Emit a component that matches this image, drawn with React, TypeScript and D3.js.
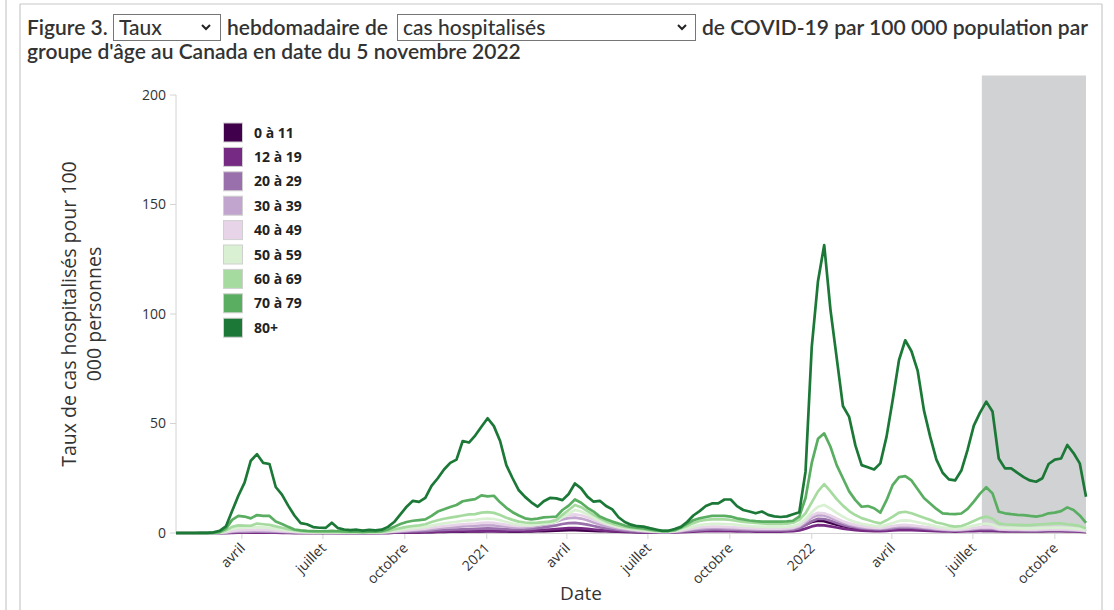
import React from "react";
import * as d3 from "d3";

const START_DATE = "2020-01-18";
const END_DATE = "2022-11-05";
const SHADE_START = "2022-07-11";

const ageGroups = ["0 à 11", "12 à 19", "20 à 29", "30 à 39", "40 à 49", "50 à 59", "60 à 69", "70 à 79", "80+"];
const groupColors = ["#40004b", "#762a83", "#9970ab", "#c2a5cf", "#e7d4e8", "#d9f0d3", "#a6dba0", "#5aae61", "#1b7837"];

const age0_11 = [
  0,0,0,0,0,0,0,0,0.1,0.2,
  0.2,0.2,0.3,0.3,0.3,0.2,0.2,0.2,0.2,0.1,
  0.1,0.1,0.1,0.1,0.1,0.1,0.1,0.1,0.1,0.1,
  0.1,0.1,0.1,0.1,0.1,0.2,0.2,0.3,0.3,0.3,
  0.4,0.4,0.5,0.5,0.6,0.6,0.6,0.7,0.7,0.7,
  0.8,0.8,0.7,0.7,0.6,0.6,0.7,0.7,0.8,0.9,
  1,1.1,1.2,1.3,1.3,1.2,1.1,1,0.9,0.8,
  0.7,0.6,0.5,0.5,0.4,0.4,0.4,0.4,0.4,0.5,
  0.6,0.8,1,1.2,1.4,1.5,1.6,1.6,1.6,1.5,
  1.5,1.4,1.4,1.4,1.4,1.5,1.5,1.6,1.7,1.9,
  2.6,3.8,5,5.6,5.4,4.6,3.8,3.1,2.6,2.2,
  1.9,1.7,1.6,1.6,1.8,2,2.2,2.3,2.2,2,
  1.8,1.6,1.4,1.3,1.2,1.2,1.3,1.4,1.6,1.7,
  1.7,1.6,1.3,1.2,1.2,1.2,1.1,1.1,1.1,1.2,
  1.3,1.4,1.5,1.5,1.4,1.3,0.9,
];
const age12_19 = [
  0,0,0,0,0,0,0,0,0.1,0.1,
  0.2,0.2,0.2,0.2,0.2,0.2,0.2,0.1,0.1,0.1,
  0.1,0.1,0.1,0.1,0.1,0.1,0.1,0.1,0.1,0.1,
  0.1,0.1,0.1,0.1,0.1,0.2,0.2,0.3,0.3,0.4,
  0.4,0.5,0.6,0.6,0.7,0.7,0.8,0.8,0.9,0.9,
  1,0.9,0.9,0.8,0.8,0.8,0.9,1,1.2,1.4,
  1.6,1.8,2,2.2,2.2,2.1,1.9,1.6,1.3,1.1,
  0.9,0.7,0.6,0.5,0.4,0.3,0.3,0.2,0.2,0.2,
  0.3,0.4,0.5,0.6,0.7,0.8,0.8,0.8,0.8,0.8,
  0.7,0.7,0.7,0.6,0.6,0.6,0.6,0.6,0.7,0.8,
  1.2,2,3,3.6,3.5,3,2.5,2,1.6,1.3,
  1.1,1,0.9,0.9,1,1.2,1.3,1.4,1.3,1.2,
  1.1,1,0.8,0.7,0.7,0.6,0.7,0.8,0.9,1,
  1.1,1,0.8,0.7,0.7,0.7,0.7,0.7,0.7,0.7,
  0.8,0.8,0.8,0.7,0.7,0.6,0.4,
];
const age20_29 = [
  0,0,0,0,0,0,0,0.1,0.2,0.4,
  0.5,0.5,0.6,0.6,0.6,0.5,0.5,0.4,0.3,0.3,
  0.2,0.2,0.2,0.2,0.2,0.2,0.1,0.1,0.1,0.1,
  0.1,0.1,0.1,0.2,0.3,0.4,0.5,0.6,0.7,0.8,
  0.9,1.1,1.3,1.4,1.5,1.6,1.7,1.8,1.9,2,
  2.1,2,1.9,1.7,1.6,1.6,1.7,1.9,2.2,2.6,
  3,3.5,4.1,4.5,4.6,4.3,3.8,3.2,2.6,2.1,
  1.7,1.4,1.1,0.9,0.7,0.6,0.5,0.4,0.3,0.3,
  0.4,0.6,0.9,1.1,1.3,1.5,1.6,1.6,1.5,1.5,
  1.4,1.3,1.3,1.2,1.2,1.2,1.2,1.2,1.3,1.5,
  2.2,3.6,5.4,6.5,6.4,5.6,4.6,3.7,3,2.5,
  2.1,1.9,1.7,1.6,1.8,2.1,2.4,2.5,2.4,2.2,
  2,1.8,1.5,1.3,1.2,1.1,1.2,1.4,1.6,1.8,
  1.9,1.8,1.4,1.3,1.2,1.2,1.2,1.1,1.1,1.2,
  1.3,1.3,1.3,1.2,1.1,1,0.7,
];
const age30_39 = [
  0,0,0,0,0,0,0,0.1,0.3,0.6,
  0.8,0.9,0.9,1,0.9,0.8,0.7,0.6,0.5,0.4,
  0.3,0.3,0.2,0.2,0.2,0.2,0.2,0.2,0.2,0.2,
  0.2,0.2,0.2,0.2,0.4,0.6,0.8,1,1.2,1.3,
  1.5,1.8,2.1,2.4,2.6,2.8,3,3.2,3.3,3.5,
  3.6,3.5,3.2,2.9,2.6,2.5,2.6,2.8,3.2,3.8,
  4.4,5.2,6.2,6.8,7,6.6,5.8,4.8,3.9,3.1,
  2.5,2,1.6,1.3,1,0.8,0.6,0.5,0.4,0.4,
  0.6,0.9,1.3,1.7,2,2.2,2.3,2.3,2.2,2.1,
  2,1.9,1.8,1.7,1.7,1.7,1.7,1.7,1.8,2.1,
  3,4.8,7,8.2,8,7,5.8,4.7,3.8,3.1,
  2.6,2.3,2.1,2,2.3,2.7,3,3.1,2.9,2.7,
  2.4,2.1,1.8,1.6,1.4,1.3,1.4,1.6,1.9,2.2,
  2.3,2.1,1.6,1.5,1.4,1.4,1.3,1.3,1.3,1.4,
  1.5,1.5,1.5,1.4,1.3,1.1,0.8,
];
const age40_49 = [
  0,0,0,0,0,0,0,0.1,0.4,0.9,
  1.2,1.3,1.4,1.5,1.4,1.3,1.1,0.9,0.7,0.5,
  0.4,0.3,0.3,0.3,0.3,0.3,0.2,0.2,0.2,0.2,
  0.2,0.2,0.2,0.3,0.5,0.7,1,1.3,1.5,1.7,
  2,2.4,2.8,3.1,3.4,3.7,4,4.2,4.3,4.6,
  4.7,4.6,4.2,3.7,3.3,3.1,3.2,3.4,3.9,4.5,
  5.2,6.2,7.4,8.2,8.5,8.1,7.2,6,4.9,4,
  3.2,2.6,2.1,1.7,1.3,1,0.8,0.6,0.5,0.5,
  0.7,1.1,1.6,2.1,2.5,2.8,2.9,2.9,2.8,2.7,
  2.5,2.3,2.2,2.1,2,2,2,2,2.1,2.4,
  3.4,5.5,8,9.2,9,8,6.6,5.4,4.4,3.7,
  3.1,2.7,2.4,2.3,2.7,3.2,3.6,3.7,3.5,3.2,
  2.8,2.5,2.1,1.8,1.6,1.5,1.6,1.9,2.3,2.6,
  2.7,2.5,1.8,1.7,1.6,1.6,1.5,1.5,1.5,1.6,
  1.7,1.7,1.7,1.6,1.5,1.3,0.9,
];
const age50_59 = [
  0,0,0,0,0,0,0.1,0.2,0.8,1.8,
  2.3,2.4,2.5,2.7,2.6,2.3,1.9,1.5,1.1,0.8,
  0.6,0.5,0.4,0.4,0.4,0.4,0.3,0.3,0.3,0.3,
  0.3,0.3,0.3,0.4,0.7,1.1,1.5,1.9,2.2,2.4,
  2.8,3.4,4,4.4,4.8,5.1,5.5,5.8,6,6.4,
  6.6,6.4,5.8,5,4.3,3.8,3.6,3.6,3.8,4.1,
  4.5,5.2,7.2,8.8,10.5,9.8,8.5,7,5.6,4.5,
  3.6,2.9,2.3,1.8,1.5,1.2,0.9,0.7,0.6,0.6,
  0.9,1.5,2.2,3,3.6,4,4.2,4.2,4.1,4,
  3.7,3.4,3.2,3,2.9,2.8,2.8,2.8,2.9,3.2,
  4.2,6.5,9.5,12,12.8,11.2,9.2,7.5,6,5,
  4.2,3.7,3.3,3,3.7,4.6,5.5,5.8,5.5,4.9,
  4.3,3.7,3,2.6,2.2,2,2.2,2.7,3.4,4,
  4.3,3.8,2.6,2.4,2.3,2.2,2.1,2.1,2.2,2.3,
  2.4,2.5,2.5,2.3,2.1,1.9,1.3,
];
const age60_69 = [
  0,0,0,0,0,0,0.1,0.3,1.2,2.8,
  3.5,3.4,3.3,4.3,4,3.7,3,2.4,1.8,1.3,
  0.9,0.7,0.6,0.5,0.5,0.6,0.5,0.4,0.4,0.4,
  0.3,0.4,0.4,0.5,1,1.6,2.2,2.8,3.2,3.5,
  4,5,5.8,6.5,7,7.5,8,8.5,8.6,9.3,
  9.5,9.2,8.2,7,6,5.2,4.8,4.6,4.7,5,
  5.2,5.8,8.3,10.5,12.8,11.8,10,8.3,6.7,5.3,
  4.3,3.5,2.8,2.3,2,1.7,1.3,1,0.8,0.8,
  1.2,2.2,3.2,4.5,5.5,6,6.2,6.2,6.2,6,
  5.5,5.1,4.8,4.6,4.4,4.2,4.1,4.1,4.3,4.7,
  6,9,14,19,22.3,19,15.5,12.5,10,8.2,
  6.8,5.9,5,4.4,5.8,7.5,9.3,9.7,9,8,
  7,6,4.8,4.2,3.4,2.9,3.2,4.2,5.5,6.8,
  7.5,6.5,4.4,4,3.8,3.7,3.6,3.6,3.8,4,
  4.2,4.4,4.4,4,3.7,3.2,2.1,
];
const age70_79 = [
  0,0,0,0,0,0,0.1,0.4,2,6,
  7.8,7.5,6.7,8.2,7.8,7.8,5.2,4.1,2.8,1.6,
  1.2,1,0.9,0.8,0.8,1,0.8,0.7,0.6,0.6,
  0.5,0.6,0.6,0.8,1.6,2.8,4.1,5,5.6,5.9,
  6.2,7.8,9.8,10.8,11.9,12.8,14.5,15,15.5,17.2,
  16.7,17,14,11.5,9.5,8,6.7,6.2,6.6,7.1,
  7.3,7.5,10.5,12.5,15.3,13.8,11.5,9.8,7.5,6.3,
  5.2,4.3,3.4,2.8,2.4,2.1,1.6,1.2,1,1,
  1.3,2.5,4.2,5.8,6.7,7.3,7.8,7.8,7.8,7.5,
  6.7,6.2,5.7,5.4,5.2,5.2,5.2,5.2,5.3,5.6,
  7.5,16,32,43,45.5,39.4,31,25,19,15,
  12,12.3,11.3,9.3,15,22,25.5,26,24,20,
  16,13.5,11,9,8.7,8.6,8.9,11,14.3,18,
  20.9,18.1,9.7,9,8.6,8.3,8.2,7.8,7.5,8,
  9,9.3,10,11.7,10.5,8,4.6,
];
const age80plus = [
  0,0,0,0,0.1,0.1,0.3,1,3,10,
  17,23,33,36,32,31.5,21,17.5,12.5,8,
  4.5,4,2.7,2.4,2.3,4.7,2.2,1.6,1.3,1.5,
  1.1,1.4,1.2,1.5,2.8,5,8.5,12,14.7,14.2,
  16,21.5,25,29,32,33.5,42,41.3,44.5,48.5,
  52.4,48.8,42,31,25,19.5,16.5,14,12,14.5,
  16,15.8,15,17.8,22.6,20.4,16.6,14.3,14.7,12.3,
  10.8,7.2,5,3.8,3.1,2.9,2.2,1.6,1,1,
  1.8,2.8,5,8,10,12.3,13.5,13.5,15.3,15.3,
  12.3,10.5,9.8,9,9.8,8.3,7.6,7.3,7.6,8.6,
  9.5,28,85,115,131.5,102,80,58,53,40,
  31,30,29,31.8,44,61,79,88,83,74,
  56,44,33.5,27.5,24.5,24,28.5,38,49,55,
  60,55.5,34,29.5,29.5,27.5,25.5,24,23.4,25,
  31.5,33.5,34,40.2,36.5,31.8,16.6,
];

const seriesValues = [age0_11, age12_19, age20_29, age30_39, age40_49, age50_59, age60_69, age70_79, age80plus];
const yTicks = [0, 50, 100, 150, 200];
const monthLabels: Record<number, string> = { 3: "avril", 6: "juillet", 9: "octobre" };

const W = 1114;
const H = 610;
const M = { left: 176, right: 1086, top: 95, bottom: 533 };

const parse = d3.utcParse("%Y-%m-%d");

export default function App() {
  const start = parse(START_DATE) as Date;
  const end = parse(END_DATE) as Date;
  const dates = d3.utcDay.range(start, d3.utcDay.offset(end, 1), 7);

  const x = d3.scaleUtc().domain([start, end]).range([M.left, M.right]);
  const y = d3.scaleLinear().domain([0, 200]).range([M.bottom, M.top]);

  const line = d3
    .line<number>()
    .x((_, i) => x(dates[i]))
    .y((v) => y(v));

  const xTicks = x.ticks(d3.utcMonth.every(3) as any).filter((d) => d >= start && d <= end);
  const fmt = (d: Date) => (d.getUTCMonth() === 0 ? String(d.getUTCFullYear()) : monthLabels[d.getUTCMonth()]);

  const shadeX = x(parse(SHADE_START) as Date);

  const titleFont = "Lato, 'Open Sans', sans-serif";
  const axisFont = "'Open Sans', 'DejaVu Sans', sans-serif";

  return (
    <svg width={W} height={H} style={{ position: "absolute", left: 0, top: 0, background: "#fff" }}>
      {/* page frame */}
      <line x1={6} x2={6} y1={0} y2={H} stroke="#c8c8c8" strokeWidth={1.2} />
      <line x1={20} x2={20} y1={4} y2={H} stroke="#c8c8c8" strokeWidth={1.2} />
      <line x1={20} x2={1102} y1={4} y2={4} stroke="#c8c8c8" strokeWidth={1.2} />
      <line x1={1102} x2={1102} y1={4} y2={H} stroke="#c8c8c8" strokeWidth={1.2} />

      {/* title */}
      <g fontFamily={titleFont} fontSize={21} fill="#333" fontWeight={600}>
        <text x={27} y={35}>Figure 3.</text>
        <rect x={113.5} y={14.5} width={107} height={26} fill="#fff" stroke="#767676" />
        <text x={119} y={35} fontWeight={500}>Taux</text>
        <path d="M202,25 L206,29 L210,25" fill="none" stroke="#222" strokeWidth={2} />
        <text x={227} y={35}>hebdomadaire de</text>
        <rect x={397.5} y={14.5} width={298} height={26} fill="#fff" stroke="#767676" />
        <text x={403} y={35} fontWeight={500}>cas hospitalisés</text>
        <path d="M678,25 L682,29 L686,25" fill="none" stroke="#222" strokeWidth={2} />
        <text x={702} y={35}>de COVID-19 par 100 000 population par</text>
        <text x={27} y={59}>groupe d'âge au Canada en date du 5 novembre 2022</text>
      </g>

      {/* shaded incomplete period */}
      <rect x={shadeX} y={75.5} width={M.right - shadeX} height={M.bottom - 75.5} fill="#d1d2d4" />

      {/* y axis */}
      <line x1={M.left} x2={M.left} y1={M.top} y2={M.bottom} stroke="#d4d4d4" />
      {yTicks.map((t) => (
        <g key={t}>
          <line x1={M.left - 6} x2={M.left} y1={y(t)} y2={y(t)} stroke="#d4d4d4" />
          <text x={M.left - 10} y={y(t)} dy="0.35em" textAnchor="end" fontFamily={axisFont} fontSize={14} fill="#333">
            {t}
          </text>
        </g>
      ))}
      <text
        transform={`translate(76,${(M.top + M.bottom) / 2}) rotate(-90)`}
        textAnchor="middle"
        fontFamily={axisFont}
        fontSize={19.5}
        fill="#333"
      >
        <tspan x={0} dy={0}>Taux de cas hospitalisés pour 100</tspan>
        <tspan x={0} dy={25}>000 personnes</tspan>
      </text>

      {/* x axis */}
      <line x1={M.left} x2={M.right + 1} y1={M.bottom + 0.5} y2={M.bottom + 0.5} stroke="#d4d4d4" />
      {xTicks.map((t) => (
        <g key={t.toISOString()}>
          <line x1={x(t)} x2={x(t)} y1={M.bottom} y2={M.bottom + 6} stroke="#d4d4d4" />
          <text
            transform={`translate(${x(t) + 4},${M.bottom + 16}) rotate(-45)`}
            textAnchor="end"
            fontFamily={axisFont}
            fontSize={14}
            fill="#333"
          >
            {fmt(t)}
          </text>
        </g>
      ))}
      <text x={581} y={600} textAnchor="middle" fontFamily={axisFont} fontSize={19} fill="#333">
        Date
      </text>

      {/* lines */}
      {seriesValues.map((vals, k) => (
        <path key={ageGroups[k]} d={line(vals) || ""} fill="none" stroke={groupColors[k]} strokeWidth={2.7} strokeLinejoin="round" />
      ))}

      {/* legend */}
      {ageGroups.map((g, k) => (
        <g key={g} transform={`translate(223,${122.5 + k * 24.4})`}>
          <rect x={0.5} y={0.5} width={19} height={19} fill={groupColors[k]} stroke="#d0d0d0" />
          <text x={31} y={15} fontFamily={axisFont} fontWeight={700} fontSize={14} fill="#222">
            {g}
          </text>
        </g>
      ))}
    </svg>
  );
}
